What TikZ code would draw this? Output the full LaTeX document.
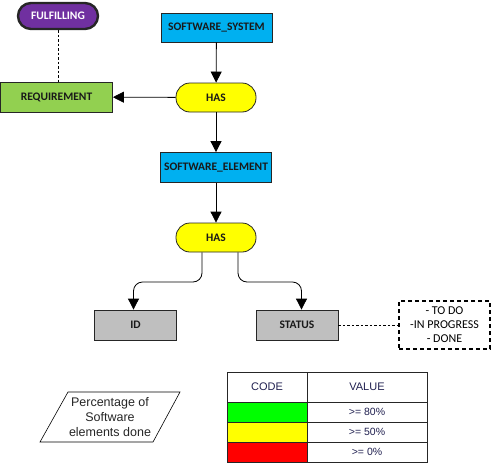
\documentclass[tikz,border=0pt]{standalone}
\usepackage{fontspec}
\setmainfont{Carlito}
\newfontfamily\arialf{Liberation Sans}
\usetikzlibrary{arrows.meta,positioning,calc}
\definecolor{cpurple}{HTML}{7030A0}
\definecolor{cblue}{HTML}{00B0F0}
\definecolor{cgreen}{HTML}{92D050}
\definecolor{cyellow}{HTML}{FFFF00}
\definecolor{cgray}{HTML}{BFBFBF}
\definecolor{cnavy}{HTML}{1F1F4F}
\definecolor{tgreen}{HTML}{00FF00}
\definecolor{tred}{HTML}{FF0000}
\tikzset{
  box/.style={draw=black!85, line width=0.8pt, minimum height=30pt, font=\fontsize{11.5}{13}\selectfont\bfseries, inner sep=1pt, text=black!90},
  pill/.style={box, rounded corners=14pt, minimum width=80pt, minimum height=29pt, fill=cyellow},
  arr/.style={line width=0.8pt, -{Triangle[width=11pt,length=11pt]}},
  dline/.style={line width=0.6pt, dash pattern=on 2.5pt off 2pt},
  cell/.style={draw=black!85, line width=0.7pt, inner sep=0pt, text=cnavy, font=\arialf\fontsize{11}{12}\selectfont}
}
\begin{document}
\begin{tikzpicture}[x=1pt,y=-1pt]
\useasboundingbox (0,0) rectangle (492,463);
% nodes
\node[box, fill=cpurple, text=white, rounded corners=13pt, line width=2.4pt, minimum width=80pt, minimum height=26pt] (ful) at (58,16) {FULFILLING};
\node[box, fill=cblue, minimum width=111pt, minimum height=29pt] (ss) at (216.5,27.5) {SOFTWARE\_SYSTEM};
\node[box, fill=cgreen, minimum width=112pt] (req) at (56.5,97) {REQUIREMENT};
\node[pill] (has1) at (216,97.5) {HAS};
\node[box, fill=cblue, minimum width=111pt] (se) at (216,167.5) {SOFTWARE\_ELEMENT};
\node[pill] (has2) at (216,237.5) {HAS};
\node[box, fill=cgray, minimum width=82pt] (id) at (135.5,325) {ID};
\node[box, fill=cgray, minimum width=82pt] (st) at (297,325) {STATUS};
\node[draw, line width=1.1pt, dash pattern=on 4pt off 3pt, minimum width=91pt, minimum height=48pt, align=center, font=\fontsize{12}{14}\selectfont, inner sep=1pt] (todo) at (444.5,325) {- TO DO\\-IN PROGRESS\\- DONE};
% connectors
\draw[dline] (ful.south) -- (ful.south |- req.north);
\draw[arr] (ss) -- (has1);
\draw[arr] (has1) -- (req);
\draw[arr] (has1) -- (se);
\draw[arr] (se) -- (has2);
\coordinate (ls) at ([xshift=-14pt]has2.south);
\coordinate (rs) at ([xshift=22pt]has2.south);
\coordinate (lt) at ([xshift=-2pt]id.north);
\coordinate (rt) at ([xshift=4.5pt]st.north);
\draw[arr, rounded corners=9pt] (ls) -- (ls |- 0,282) -- (lt |- 0,282) -- (lt);
\draw[arr, rounded corners=9pt] (rs) -- (rs |- 0,282) -- (rt |- 0,282) -- (rt);
\draw[dline, line width=0.5pt] (st) -- (todo);
% parallelogram
\node[align=center, font=\arialf\fontsize{12.5}{15}\selectfont, inner sep=0pt, text=black!85] (pct) at (110,417) {Percentage of\\Software\\elements done};
\draw[line width=0.6pt] (68,392) -- (180,392) -- (153,442) -- (40,442) -- cycle;
% table
\node[cell, minimum width=80pt, minimum height=30pt] (c1) at (267,387) {CODE};
\node[cell, minimum width=120pt, minimum height=30pt] (v1) at (367,387) {VALUE};
\node[cell, fill=tgreen, minimum width=80pt, minimum height=20pt] (c2) at (267,412) {};
\node[cell, minimum width=120pt, minimum height=20pt, font=\arialf\fontsize{10.5}{12}\selectfont] (v2) at (367,412) {>= 80\%};
\node[cell, fill=cyellow, minimum width=80pt, minimum height=20pt] (c3) at (267,432) {};
\node[cell, minimum width=120pt, minimum height=20pt, font=\arialf\fontsize{10.5}{12}\selectfont] (v3) at (367,432) {>= 50\%};
\node[cell, fill=tred, minimum width=80pt, minimum height=20pt] (c4) at (267,452) {};
\node[cell, minimum width=120pt, minimum height=20pt, font=\arialf\fontsize{10.5}{12}\selectfont] (v4) at (367,452) {>= 0\%};
\end{tikzpicture}
\end{document}
